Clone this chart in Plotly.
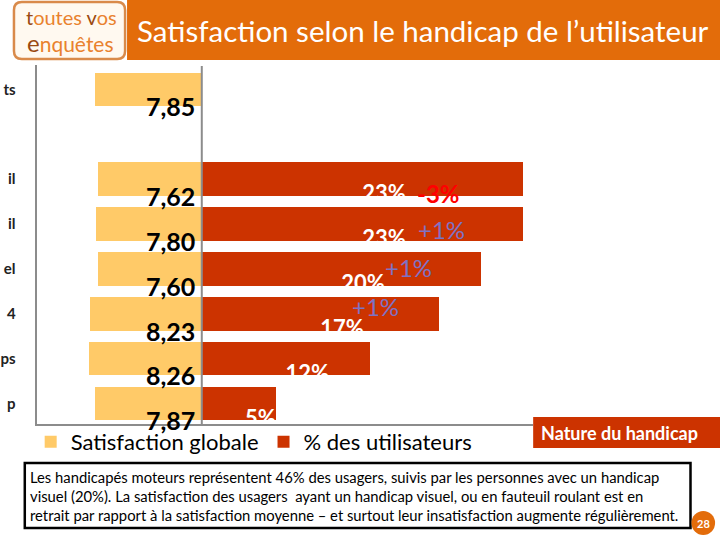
import plotly.graph_objects as go

# ---------------- data ----------------
categories = ["ts", "il", "il", "el", "4", "ps", "p"]          # visible (cropped) category labels
satisfaction = [7.85, 7.62, 7.80, 7.60, 8.23, 8.26, 7.87]      # Satisfaction globale
pct_users = [23, 23, 20, 17, 12, 5.3]                           # % des utilisateurs (rows 2..7)
pct_labels = ["23%", "23%", "20%", "17%", "12%", "5%"]
changes = ["-3%", "+1%", "+1%", "+1%"]                          # évolution (rows 2..5)

# ---------------- layout helpers ----------------
W, H = 720, 540
def px(x): return x / W
def py(y): return 1 - y / H

YELLOW = "#FFCA68"
RED = "#CC3300"
ORANGE = "#E36C0A"
GRAY = "#8C8C8C"
FONT = "Lato"

# row positions: first row, one empty slot, then the six handicap rows
ypos = [0] + [i + 1 for i in range(1, len(categories))]
half = 0.375

fig = go.Figure()

fig.add_trace(go.Bar(
    x=satisfaction, y=ypos, orientation="h", xaxis="x", yaxis="y",
    marker=dict(color=YELLOW, line=dict(width=0)), width=0.75,
    name="Satisfaction globale", hoverinfo="skip"))

fig.add_trace(go.Bar(
    x=pct_users, y=ypos[1:], orientation="h", xaxis="x2", yaxis="y",
    marker=dict(color=RED, line=dict(width=0)), width=0.75,
    name="% des utilisateurs", hoverinfo="skip"))

# % labels (white, half hidden below the bar)
fig.add_trace(go.Scatter(
    x=[v / 2 + 1.55 for v in pct_users], y=[p + half for p in ypos[1:]], mode="text",
    text=pct_labels, textposition="middle center", xaxis="x2", yaxis="y",
    textfont=dict(family=FONT, size=22, color="white", weight="bold"),
    showlegend=False, cliponaxis=True, hoverinfo="skip"))

fig.update_layout(
    width=W, height=H, margin=dict(l=0, r=0, t=0, b=0),
    paper_bgcolor="white", plot_bgcolor="rgba(0,0,0,0)",
    barmode="overlay", bargap=0,
    font=dict(family=FONT, color="black"),
    xaxis=dict(domain=[px(25), px(193)], range=[(193 - 25) / 13.9, 0], anchor="y",
               showgrid=False, zeroline=False, showticklabels=False, ticks="",
               showline=True, linecolor=GRAY, linewidth=2),
    xaxis2=dict(domain=[px(193), px(530)], range=[0, (530 - 193) / 14.2], anchor="y",
                showgrid=False, zeroline=False, showticklabels=False, ticks="",
                showline=True, linecolor=GRAY, linewidth=2),
    yaxis=dict(domain=[py(424), py(65)], range=[7.456, -0.544], anchor="x",
               showgrid=False, zeroline=False, ticks="",
               tickvals=ypos, ticktext=categories, ticklabelstandoff=16,
               tickfont=dict(family=FONT, size=15, color="#222222", weight="bold"),
               showline=True, linecolor=GRAY, linewidth=2),
    legend=dict(orientation="h", x=px(19), y=py(442), yanchor="middle", xanchor="left",
                font=dict(family=FONT, size=22, color="black"),
                bgcolor="rgba(0,0,0,0)", itemclick=False, itemdoubleclick=False),
    showlegend=True,
)

shapes = []
annotations = []

# satisfaction value labels (centered on the bar bottom edge, right-aligned at the axis)
for v, p in zip(satisfaction, ypos):
    annotations.append(dict(xref="x", yref="y", x=0, y=p + half, xanchor="right", yanchor="middle",
                            xshift=-5, showarrow=False, text=f"{v:.2f}".replace(".", ","),
                            font=dict(family=FONT, size=25, color="black", weight="bold")))

# middle vertical axis line
shapes.append(dict(type="line", xref="paper", yref="paper", x0=px(193), x1=px(193),
                   y0=py(424), y1=py(66), line=dict(color=GRAY, width=2)))

# header band
shapes.append(dict(type="rect", xref="paper", yref="paper", x0=px(117), x1=1, y0=py(60), y1=1,
                   fillcolor=ORANGE, line=dict(width=0), layer="below"))
annotations.append(dict(xref="paper", yref="paper", x=px(418), y=py(31), showarrow=False,
                        text="Satisfaction selon le handicap de l’utilisateur",
                        font=dict(family=FONT, size=29.5, color="white"),
                        xanchor="center", yanchor="middle"))

# logo
r = 8
x0, x1, y0, y1 = 2, 115, 2, 59
path = (f"M {px(x0 + r)},{py(y0)} L {px(x1 - r)},{py(y0)} Q {px(x1)},{py(y0)} {px(x1)},{py(y0 + r)} "
        f"L {px(x1)},{py(y1 - r)} Q {px(x1)},{py(y1)} {px(x1 - r)},{py(y1)} "
        f"L {px(x0 + r)},{py(y1)} Q {px(x0)},{py(y1)} {px(x0)},{py(y1 - r)} "
        f"L {px(x0)},{py(y0 + r)} Q {px(x0)},{py(y0)} {px(x0 + r)},{py(y0)} Z")
shapes.append(dict(type="path", xref="paper", yref="paper", path=path,
                   fillcolor="#FFF9F0", line=dict(color="#D98A4A", width=2.5)))
DARK = "#9A4A12"
LIGHT = "#E9822E"
annotations.append(dict(xref="paper", yref="paper", x=px(60), y=py(17), showarrow=False,
                        text=f"<span style='color:{DARK}'>t</span>outes <span style='color:{DARK}'>v</span>os",
                        font=dict(family=FONT, size=20, color=LIGHT),
                        xanchor="center", yanchor="middle"))
annotations.append(dict(xref="paper", yref="paper", x=px(59), y=py(43), showarrow=False,
                        text=f"<span style='color:{DARK};font-size:24px'>e</span>nquêtes",
                        font=dict(family=FONT, size=21, color=LIGHT),
                        xanchor="center", yanchor="middle"))

# change annotations (évolution)
change_x = [16.97, 17.18, 14.79, 12.46]
change_dy = [0.31, 0.13, -0.04, -0.16]
for i, txt in enumerate(changes):
    neg = txt.startswith("-")
    annotations.append(dict(xref="x2", yref="y", x=change_x[i], y=ypos[i + 1] + change_dy[i],
                            text=txt, showarrow=False, xanchor="center", yanchor="middle",
                            font=dict(family=FONT, size=24,
                                      color="#FF0000" if neg else "#7E72C4",
                                      weight="bold" if neg else "normal")))

# "Nature du handicap" box
shapes.append(dict(type="rect", xref="paper", yref="paper", x0=px(530), x1=1, y0=py(448), y1=py(417),
                   fillcolor=RED, line=dict(width=0)))
annotations.append(dict(xref="paper", yref="paper", x=px(536), y=py(432.5), showarrow=False,
                        text="<b>Nature du handicap</b>", xanchor="left", yanchor="middle",
                        font=dict(family=FONT, size=18, color="white")))

# comment box
shapes.append(dict(type="rect", xref="paper", yref="paper", x0=px(13), x1=px(690), y0=py(528), y1=py(463),
                   fillcolor="white", line=dict(color="black", width=2.5)))
annotations.append(dict(xref="paper", yref="paper", x=px(16), y=py(495.5), showarrow=False,
                        xanchor="left", yanchor="middle", align="left",
                        text=("Les handicapés moteurs représentent 46% des usagers, suivis par les personnes avec un handicap<br>"
                              "visuel (20%). La satisfaction des usagers  ayant un handicap visuel, ou en fauteuil roulant est en<br>"
                              "retrait par rapport à la satisfaction moyenne – et surtout leur insatisfaction augmente régulièrement."),
                        font=dict(family=FONT, size=14.8, color="black")))

# page number
shapes.append(dict(type="circle", xref="paper", yref="paper", x0=px(691), x1=px(715), y0=py(535), y1=py(511),
                   fillcolor=ORANGE, line=dict(width=0)))
annotations.append(dict(xref="paper", yref="paper", x=px(703), y=py(523), showarrow=False,
                        text="<b>28</b>", xanchor="center", yanchor="middle",
                        font=dict(family=FONT, size=11, color="white")))

fig.update_layout(shapes=shapes, annotations=annotations)
fig.write_html("out.html", config={"displayModeBar": False},
               post_script="document.body.style.margin='0';")
